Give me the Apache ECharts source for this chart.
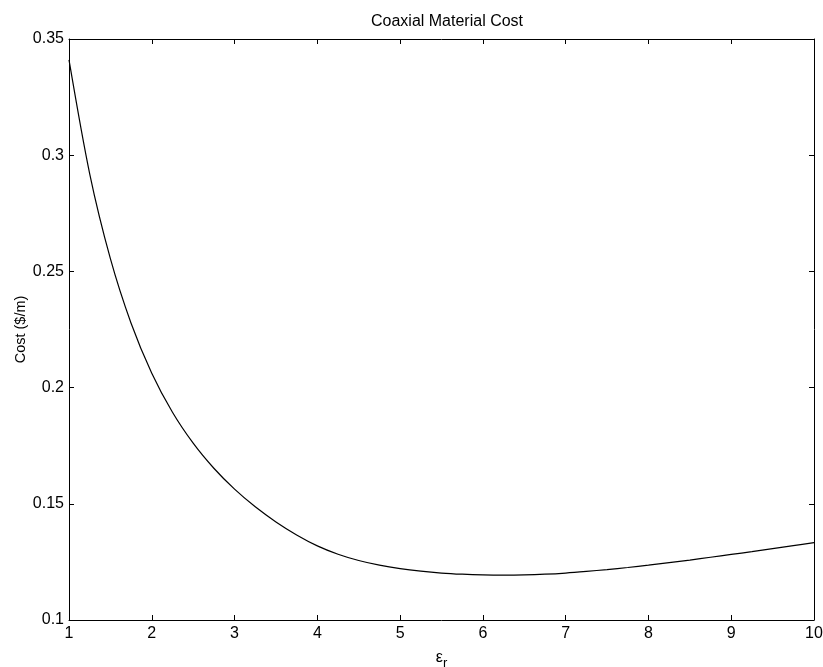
<!DOCTYPE html>
<html>
<head>
<meta charset="utf-8">
<script src="https://cdn.jsdelivr.net/npm/echarts@6/dist/echarts.min.js"></script>
<style>
html,body{margin:0;padding:0;background:#fff;}
#main{width:823px;height:667px;}
</style>
</head>
<body>
<div id="main"></div>
<script>
var epsR = [1, 1.25, 1.5, 1.75, 2, 2.25, 2.5, 2.75, 3, 3.25, 3.5, 3.75, 4, 4.25, 4.5, 4.75, 5, 5.25, 5.5, 5.75, 6, 6.25, 6.5, 6.75, 7, 7.25, 7.5, 7.75, 8, 8.25, 8.5, 8.75, 9, 9.25, 9.5, 9.75, 10];
var cost = [0.3410, 0.2920, 0.2555, 0.2277, 0.2062, 0.1894, 0.1761, 0.1653, 0.1563, 0.1487, 0.1422, 0.1366, 0.1319, 0.1283, 0.1256, 0.1236, 0.1221, 0.1210, 0.1202, 0.1197, 0.1194, 0.1193, 0.1194, 0.1197, 0.1202, 0.1209, 0.1217, 0.1226, 0.1236, 0.1247, 0.1258, 0.1270, 0.1282, 0.1294, 0.1307, 0.1320, 0.1333];
var xTicks = [1, 2, 3, 4, 5, 6, 7, 8, 9, 10];
var yTicks = [0.1, 0.15, 0.2, 0.25, 0.3, 0.35];

var chart = echarts.init(document.getElementById('main'), null, {renderer: 'canvas'});
var font = 'Liberation Sans, Arial, sans-serif';
var tickStyle = {show: true, inside: true, length: 5, lineStyle: {color: '#000', width: 1}};
var lineStyle = {show: true, onZero: false, lineStyle: {color: '#000', width: 1}};
var data = epsR.map(function (e, i) { return [e, cost[i]]; });
chart.setOption({
  animation: false,
  backgroundColor: '#fff',
  title: {
    text: 'Coaxial Material Cost',
    left: 442, top: 9, textAlign: 'center',
    textStyle: {fontFamily: font, fontSize: 16, fontWeight: 'normal', color: '#000'}
  },
  grid: {left: 69, top: 39, right: 9, bottom: 47, containLabel: false, outerBoundsMode: 'none'},
  xAxis: [{
    type: 'value', min: 1, max: 10, interval: 1, position: 'bottom',
    axisLine: lineStyle, axisTick: tickStyle, splitLine: {show: false},
    axisLabel: {color: '#000', fontFamily: font, fontSize: 16, margin: 6,
      formatter: function (v) { return xTicks.indexOf(v) >= 0 ? String(v) : ''; }},
    name: '{e|ε}{s|r}', nameLocation: 'middle', nameGap: 25,
    nameTextStyle: {rich: {
      e: {fontFamily: font, fontSize: 16, color: '#000'},
      s: {fontFamily: font, fontSize: 13, color: '#000', verticalAlign: 'bottom', padding: [12, 0, 0, 0]}
    }}
  }, {
    type: 'value', min: 1, max: 10, interval: 1, position: 'top',
    axisLine: lineStyle, axisTick: tickStyle, splitLine: {show: false},
    axisLabel: {show: false}
  }],
  yAxis: [{
    type: 'value', min: 0.1, max: 0.35, interval: 0.05, position: 'left',
    axisLine: lineStyle, axisTick: tickStyle, splitLine: {show: false},
    axisLabel: {color: '#000', fontFamily: font, fontSize: 16, margin: 5,
      formatter: function (v) {
        var r = Math.round(v * 100) / 100;
        return yTicks.indexOf(r) >= 0 ? String(r) : '';
      }},
    name: 'Cost ($/m)', nameLocation: 'middle', nameGap: 41, nameRotate: 90,
    nameMoveOverlap: false,
    nameTextStyle: {fontFamily: font, fontSize: 14.5, color: '#000'}
  }, {
    type: 'value', min: 0.1, max: 0.35, interval: 0.05, position: 'right',
    axisLine: lineStyle, axisTick: tickStyle, splitLine: {show: false},
    axisLabel: {show: false}
  }],
  series: [{
    type: 'line', data: data, smooth: 0.3, showSymbol: false,
    lineStyle: {color: '#000', width: 1.2}, clip: true
  }]
});
</script>
</body>
</html>
